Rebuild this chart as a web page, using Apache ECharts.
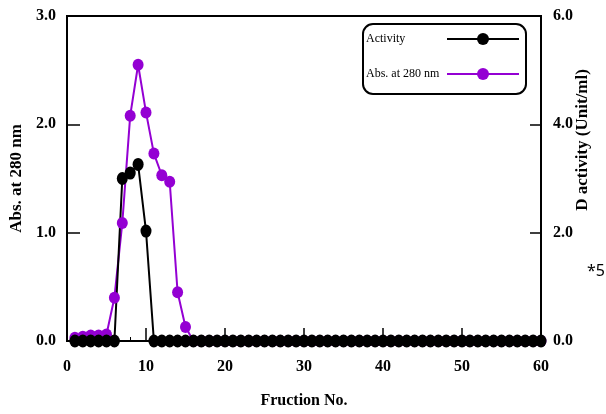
<!DOCTYPE html>
<html>
<head>
<meta charset="utf-8">
<script src="https://cdn.jsdelivr.net/npm/echarts@6/dist/echarts.min.js"></script>
<style>
  html, body { margin: 0; padding: 0; background: #fff; }
  #chart { width: 606px; height: 414px; }
</style>
</head>
<body>
<div id="chart"></div>
<script>
// Fraction numbers collected from the column
const fractions = [
  1, 2, 3, 4, 5, 6, 7, 8, 9, 10,
  11, 12, 13, 14, 15, 16, 17, 18, 19, 20,
  21, 22, 23, 24, 25, 26, 27, 28, 29, 30,
  31, 32, 33, 34, 35, 36, 37, 38, 39, 40,
  41, 42, 43, 44, 45, 46, 47, 48, 49, 50,
  51, 52, 53, 54, 55, 56, 57, 58, 59, 60
];

// Absorbance at 280 nm per fraction (left axis)
const absorbance = [
  0.03, 0.04, 0.05, 0.05, 0.06, 0.40, 1.09, 2.08, 2.55, 2.11,
  1.73, 1.53, 1.47, 0.45, 0.13, 0, 0, 0, 0, 0,
  0, 0, 0, 0, 0, 0, 0, 0, 0, 0,
  0, 0, 0, 0, 0, 0, 0, 0, 0, 0,
  0, 0, 0, 0, 0, 0, 0, 0, 0, 0,
  0, 0, 0, 0, 0, 0, 0, 0, 0, 0
];

// Enzyme activity per fraction, Unit/ml (right axis)
const activity = [
  0, 0, 0, 0, 0, 0, 3.0, 3.1, 3.26, 2.03,
  0, 0, 0, 0, 0, 0, 0, 0, 0, 0,
  0, 0, 0, 0, 0, 0, 0, 0, 0, 0,
  0, 0, 0, 0, 0, 0, 0, 0, 0, 0,
  0, 0, 0, 0, 0, 0, 0, 0, 0, 0,
  0, 0, 0, 0, 0, 0, 0, 0, 0, 0
];

const xTicks = [0, 10, 20, 30, 40, 50, 60];
const leftTicks = [0, 1, 2, 3];
const rightTicks = [0, 2, 4, 6];

const serif = '"Liberation Serif", "Times New Roman", serif';
const purple = '#9400d3';

const pairs = (ys) => fractions.map((f, i) => [f, ys[i]]);

const chart = echarts.init(document.getElementById('chart'), null, { renderer: 'canvas' });

chart.setOption({
  animation: false,
  backgroundColor: '#fff',
  grid: {
    left: 67, right: 65, top: 16, bottom: 70,
    show: true, borderColor: '#000', borderWidth: 2, backgroundColor: 'transparent'
  },
  legend: {
    data: ['Activity', 'Abs. at 280 nm'],
    orient: 'vertical',
    align: 'right',
    left: 363, top: 24,
    padding: [9, 6, 14, 3],
    itemGap: 23,
    itemWidth: 72,
    itemHeight: 15,
    borderColor: '#000',
    borderWidth: 2,
    borderRadius: 10,
    formatter: (name) => '{t|' + name + '}',
    textStyle: {
      fontFamily: serif, fontSize: 12, color: '#000',
      rich: { t: { width: 76, align: 'left', fontFamily: serif, fontSize: 12, color: '#000' } }
    }
  },
  xAxis: {
    type: 'value',
    min: xTicks[0], max: xTicks[xTicks.length - 1], interval: 10,
    name: 'Fruction No.',
    nameLocation: 'middle',
    nameGap: 52,
    nameTextStyle: { fontFamily: serif, fontSize: 16, fontWeight: 'bold', color: '#000' },
    axisLine: { show: true, lineStyle: { color: '#000', width: 2 } },
    axisTick: { show: true, inside: true, length: 13, lineStyle: { color: '#000', width: 1.5 } },
    minorTick: { show: true, splitNumber: 5, length: 4, lineStyle: { color: '#000', width: 1 } },
    axisLabel: { fontFamily: serif, fontSize: 16, fontWeight: 'bold', color: '#000', margin: 18 },
    splitLine: { show: false }
  },
  yAxis: [
    {
      type: 'value',
      min: leftTicks[0], max: leftTicks[leftTicks.length - 1], interval: 1,
      name: 'Abs. at 280 nm',
      nameLocation: 'middle',
      nameRotate: 90,
      nameGap: 42,
      nameTextStyle: { fontFamily: serif, fontSize: 17, fontWeight: 'bold', color: '#000' },
      axisLine: { show: true, lineStyle: { color: '#000', width: 2 } },
      axisTick: { show: true, inside: true, length: 13, lineStyle: { color: '#000', width: 1.5 } },
      axisLabel: {
        fontFamily: serif, fontSize: 16, fontWeight: 'bold', color: '#000', margin: 11,
        formatter: (v) => v.toFixed(1)
      },
      splitLine: { show: false }
    },
    {
      type: 'value',
      position: 'right',
      min: rightTicks[0], max: rightTicks[rightTicks.length - 1], interval: 2,
      axisLine: { show: true, lineStyle: { color: '#000', width: 2 } },
      axisTick: { show: true, inside: true, length: 11, lineStyle: { color: '#000', width: 1.5 } },
      axisLabel: {
        fontFamily: serif, fontSize: 16, fontWeight: 'bold', color: '#000', margin: 12,
        formatter: (v) => v.toFixed(1)
      },
      splitLine: { show: false }
    }
  ],
  graphic: [
    {
      type: 'text',
      x: 583, y: 140,
      rotation: Math.PI / 2,
      style: {
        text: 'D activity (Unit/ml)',
        fontFamily: serif, fontSize: 17, fontWeight: 'bold', fill: '#000',
        align: 'center', verticalAlign: 'middle'
      }
    },
    {
      type: 'text',
      left: 587, top: 263,
      style: { text: '*5', fontFamily: '"Noto Sans", sans-serif', fontSize: 16, fill: '#000' }
    }
  ],
  series: [
    {
      name: 'Abs. at 280 nm',
      type: 'line',
      yAxisIndex: 0,
      data: pairs(absorbance),
      symbol: 'circle',
      symbolSize: [11, 12],
      itemStyle: { color: purple },
      lineStyle: { color: purple, width: 2 }
    },
    {
      name: 'Activity',
      type: 'line',
      yAxisIndex: 1,
      data: pairs(activity),
      symbol: 'circle',
      symbolSize: [11, 13],
      itemStyle: { color: '#000' },
      lineStyle: { color: '#000', width: 2 }
    }
  ]
});
</script>
</body>
</html>
